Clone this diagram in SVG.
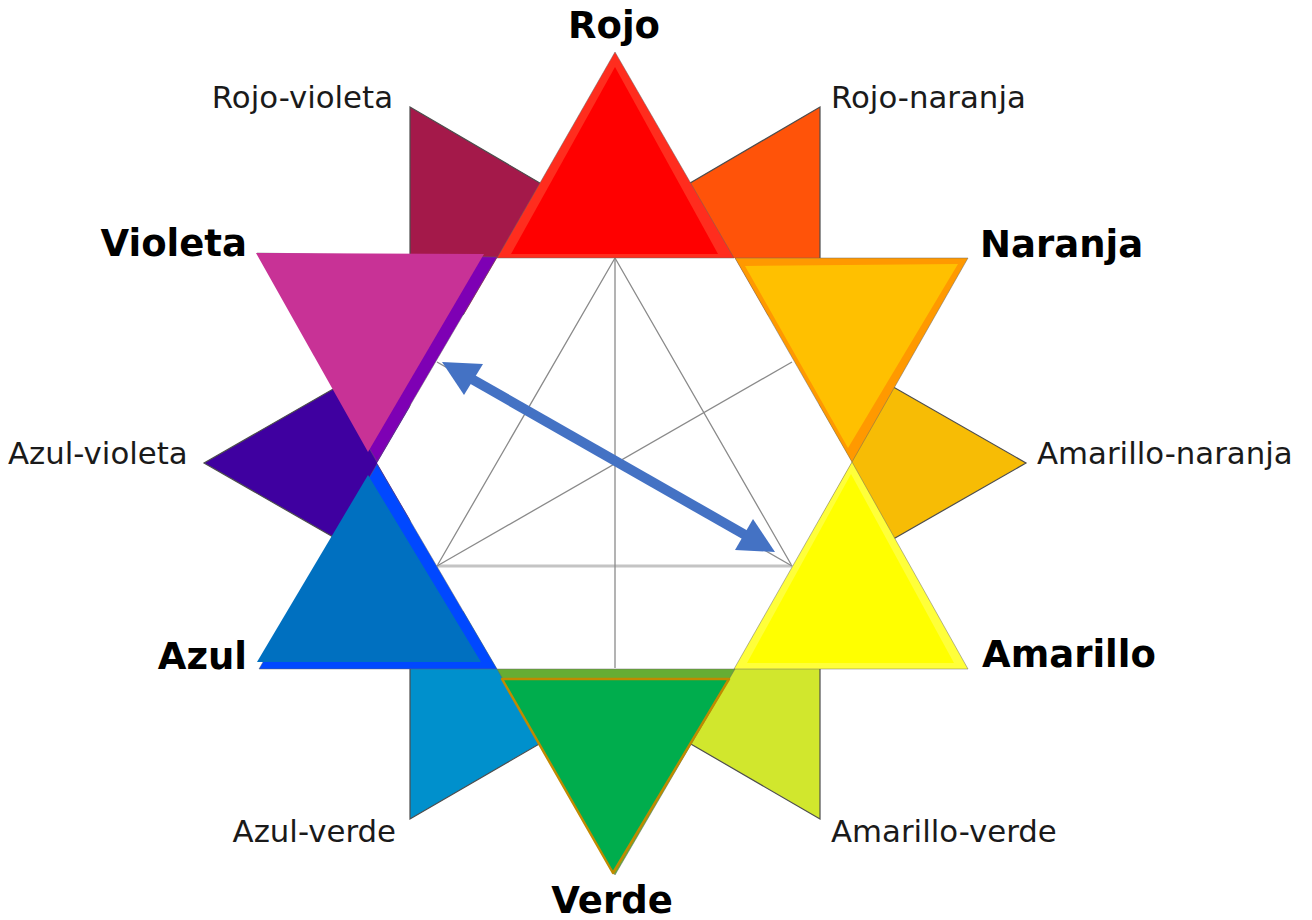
<svg xmlns="http://www.w3.org/2000/svg" width="1312" height="920" viewBox="0 0 1312 920">
<defs>
<style>
.t3{stroke:#4d4d4d;stroke-width:1.2;stroke-linejoin:miter}
.po{stroke:#666;stroke-width:0.8;stroke-opacity:0.6}
.pi{stroke:none}
.guide{fill:none;stroke:#8a8a8a;stroke-width:1.3}
.lbl{font-family:"DejaVu Sans",Verdana,sans-serif;font-size:30.8px;fill:#1a1a1a}
.big{font-family:"DejaVu Sans",Verdana,sans-serif;font-size:37px;font-weight:bold;fill:#000}
</style>
</defs>
<rect width="1312" height="920" fill="#fff"/>

<g id="rojo-naranja"><polygon class="t3" points="820,107 820,345 615,227" fill="#ff5309"/></g>
<g id="amarillo-naranja"><polygon class="t3" points="1026,463 820,581 820,345" fill="#f7bc05"/></g>
<g id="amarillo-verde"><polygon class="t3" points="820,819 615,700 820,581" fill="#d1e72d"/></g>
<g id="azul-verde"><polygon class="t3" points="410,819 410,581 615,700" fill="#0090cc"/></g>
<g id="azul-violeta"><polygon class="t3" points="204,463 410,345 410,581" fill="#3f00a0"/></g>
<g id="rojo-violeta"><polygon class="t3" points="410,107 615,227 410,345" fill="#a4194a"/></g>

<g id="hexagon">
<polygon points="497,258 735,258 852,462 735,669 497,669 377,463" fill="#fff"/>
</g>

<g id="guides">
<polyline class="guide" points="437,566 615,258 792,566"/>
<line x1="437" y1="566" x2="792" y2="566" stroke="#c4c4c4" stroke-width="3"/>
<line class="guide" x1="615" y1="258" x2="615" y2="668"/>
<line class="guide" x1="437" y1="566" x2="792" y2="362"/>
<line class="guide" x1="437" y1="362" x2="792" y2="566"/>
</g>

<g id="rojo">
<polygon class="po" points="615,52 734,258 497,258" fill="#ff2d1e"/>
<polygon class="pi" points="615,67 718,254 511,254" fill="#ff0000"/>
</g>
<g id="naranja">
<polygon class="po" points="735,258 968,258 852,462" fill="#ff9900"/>
<polygon class="pi" points="745,266 958,264 848,448" fill="#ffc000"/>
</g>
<g id="amarillo">
<polygon class="po" points="852,462 968,669 734,669" fill="#ffff3a"/>
<polygon class="pi" points="851,474 954,663 747,663" fill="#ffff00"/>
</g>
<g id="verde">
<polygon class="po" points="497,669 735,669 615,875" fill="#66ad33"/>
<polygon points="502,679 729,679 613,873" fill="#00ad4d" stroke="#c08a00" stroke-width="2.5" stroke-linejoin="round"/>
</g>
<g id="azul">
<polygon class="po" points="377,464 497,669 259,669" fill="#0048ff"/>
<polygon class="pi" points="368,475 481,662 257,662" fill="#0070c0"/>
</g>
<g id="violeta">
<polygon class="po" points="257,253 497,257 377,462" fill="#7e00b4"/>
<polygon class="pi" points="256,253 484,254 368,452" fill="#c83296"/>
</g>

<g id="connectors">
<line x1="470" y1="378" x2="747" y2="536" stroke="#4472c4" stroke-width="10"/>
<polygon points="442,362 483,364 464,395" fill="#4472c4"/>
<polygon points="775,552 753,519 735,550" fill="#4472c4"/>
</g>

<g id="labels">
<text class="big" x="614" y="38" text-anchor="middle">Rojo</text>
<text class="lbl" x="831" y="108">Rojo-naranja</text>
<text class="big" x="980" y="257">Naranja</text>
<text class="lbl" x="1037" y="464">Amarillo-naranja</text>
<text class="big" x="982" y="667">Amarillo</text>
<text class="lbl" x="831" y="842">Amarillo-verde</text>
<text class="big" x="612" y="913" text-anchor="middle">Verde</text>
<text class="lbl" x="396" y="842" text-anchor="end">Azul-verde</text>
<text class="big" x="247" y="669" text-anchor="end">Azul</text>
<text class="lbl" x="8" y="464">Azul-violeta</text>
<text class="big" x="247" y="256" text-anchor="end">Violeta</text>
<text class="lbl" x="393" y="108" text-anchor="end">Rojo-violeta</text>
</g>
</svg>
